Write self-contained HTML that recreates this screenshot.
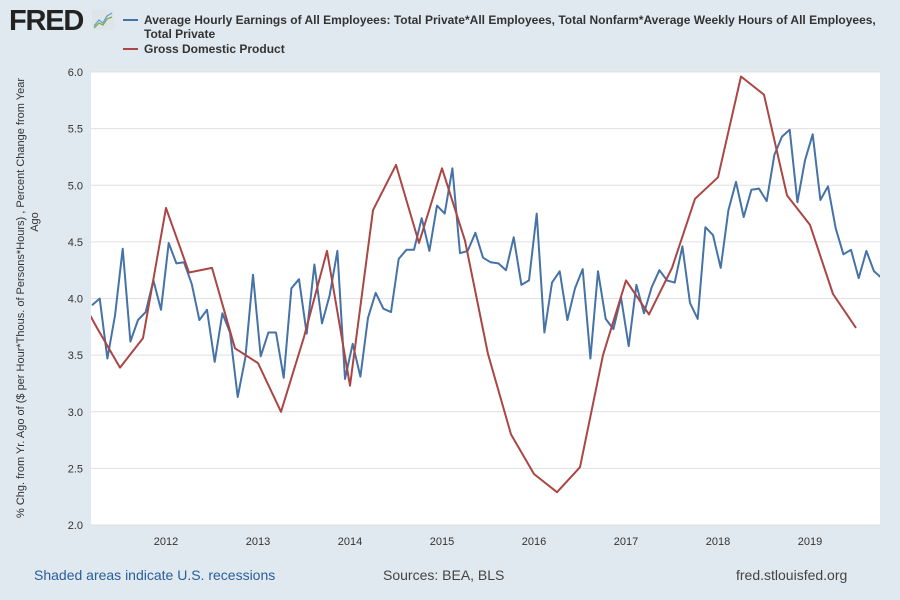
<!DOCTYPE html>
<html><head><meta charset="utf-8">
<style>
body{margin:0;width:900px;height:600px;background:#e1e9f0;font-family:"Liberation Sans",sans-serif;overflow:hidden;position:relative}
.t{position:absolute;color:#333}
</style></head><body>
<div class="t" style="left:9px;top:5px;font-size:29px;font-weight:bold;color:#222;letter-spacing:-1.2px">FRED</div>
<svg style="position:absolute;left:92px;top:10px" width="22" height="20"><rect width="22" height="20" rx="2" fill="#dfe4e8"/><polyline points="2,16 7,10 11,13 15,6 20,3" fill="none" stroke="#6a9fd0" stroke-width="1.3"/><polyline points="2,18 7,13 11,15 15,9 20,7" fill="none" stroke="#7ab04a" stroke-width="1.3"/></svg>
<div style="position:absolute;left:123px;top:13px;width:760px;font-size:12px;font-weight:bold;color:#333;line-height:14px">
<span style="position:absolute;left:0;top:6px;width:15px;height:2px;background:#4572a7"></span>
<div style="margin-left:21px">Average Hourly Earnings of All Employees: Total Private*All Employees, Total Nonfarm*Average Weekly Hours of All Employees,<br>Total Private</div></div>
<div style="position:absolute;left:123px;top:42px;font-size:12px;font-weight:bold;color:#333;line-height:14px">
<span style="position:absolute;left:0;top:6px;width:15px;height:2px;background:#aa4643"></span>
<div style="margin-left:21px">Gross Domestic Product</div></div>
<svg id="chart" style="position:absolute;left:0;top:0" width="900" height="600"></svg>
<div class="t" style="left:34px;top:567px;font-size:14px;color:#2a5d9a">Shaded areas indicate U.S. recessions</div>
<div class="t" style="left:383px;top:567px;font-size:14px;color:#444">Sources: BEA, BLS</div>
<div class="t" style="left:736px;top:567px;font-size:14px;color:#444">fred.stlouisfed.org</div>
<script>
const earnings=[3.94,4.0,3.47,3.85,4.44,3.62,3.81,3.88,4.16,3.90,4.49,4.31,4.32,4.13,3.81,3.90,3.44,3.87,3.70,3.13,3.48,4.21,3.49,3.70,3.70,3.30,4.09,4.17,3.69,4.30,3.78,4.03,4.42,3.29,3.60,3.31,3.83,
4.05,3.91,3.88,4.35,4.43,4.43,4.71,4.42,4.82,4.75,5.15,4.40,4.42,4.58,4.36,4.32,4.31,4.25,4.54,4.12,4.16,4.75,3.70,4.14,4.24,3.81,4.09,4.26,3.47,4.24,3.82,3.73,4.01,
3.58,4.12,3.87,4.10,4.25,4.16,4.14,4.46,3.96,3.82,4.63,4.56,4.27,4.78,5.03,4.72,4.96,4.97,4.86,5.27,5.43,5.49,4.85,5.22,5.45,4.87,4.99,4.62,4.39,4.43,4.18,4.42,4.24,4.18];
const gdp=[4.11,3.74,3.39,3.65,4.80,4.23,4.27,3.56,3.43,3.00,3.66,4.42,3.23,4.78,5.18,4.49,5.15,4.51,3.51,2.80,2.45,2.29,2.51,3.50,4.16,3.86,4.27,4.88,5.07,5.96,5.80,4.91,4.65,4.04,3.74];
const yTicks=[2.0,2.5,3.0,3.5,4.0,4.5,5.0,5.5,6.0];
const xTicks=[2012,2013,2014,2015,2016,2017,2018,2019];
const L=91,R=880,T=72,B=525,eStart=2011+2.35/12;
const x=t=>166+(t-2012)*92;
const y=v=>B-(v-2)/4*(B-T);
const svg=document.getElementById('chart');const NS='http://www.w3.org/2000/svg';
function mk(tag,attrs,parent){const e=document.createElementNS(NS,tag);for(const k in attrs)e.setAttribute(k,attrs[k]);(parent||svg).appendChild(e);return e;}
const defs=mk('defs',{});const cp=mk('clipPath',{id:'c'},defs);mk('rect',{x:L,y:T-5,width:R-L,height:B-T+10},cp);
const bg=mk('rect',{x:L,y:T,width:R-L,height:B-T,fill:'#fff'});


yTicks.forEach(v=>{
const g=mk('line',{x1:L,x2:R,y1:y(v),y2:y(v),stroke:'#e0e0e0','stroke-width':1});


const tx=mk('text',{x:L-8,y:y(v)+4,'text-anchor':'end','font-size':11,fill:'#333','font-family':'Liberation Sans'});tx.textContent=v.toFixed(1);


});
xTicks.forEach(t=>{
const tx=mk('text',{x:x(t),y:B+20,'text-anchor':'middle','font-size':11,fill:'#333','font-family':'Liberation Sans'});tx.textContent=t;


});
const ep=earnings.map((v,i)=>x(eStart+i/12).toFixed(1)+','+y(v).toFixed(1)).join(' ');
const l1=mk('polyline',{points:ep,fill:'none',stroke:'#4572a7','stroke-width':2,'clip-path':'url(#c)','stroke-linejoin':'round'});


const gp=gdp.map((v,i)=>x(2011+i*0.25).toFixed(1)+','+y(v).toFixed(1)).join(' ');
const l2=mk('polyline',{points:gp,fill:'none',stroke:'#aa4643','stroke-width':2,'clip-path':'url(#c)','stroke-linejoin':'round'});


const yt=mk('text',{transform:'translate(24,298) rotate(-90)','text-anchor':'middle','font-size':11,fill:'#333','font-family':'Liberation Sans'});


const s1=mk('tspan',{x:0,dy:0},yt);s1.textContent='% Chg. from Yr. Ago of ($ per Hour*Thous. of Persons*Hours) , Percent Change from Year';
const s2=mk('tspan',{x:76,dy:14},yt);s2.textContent='Ago';
</script>
</body></html>
